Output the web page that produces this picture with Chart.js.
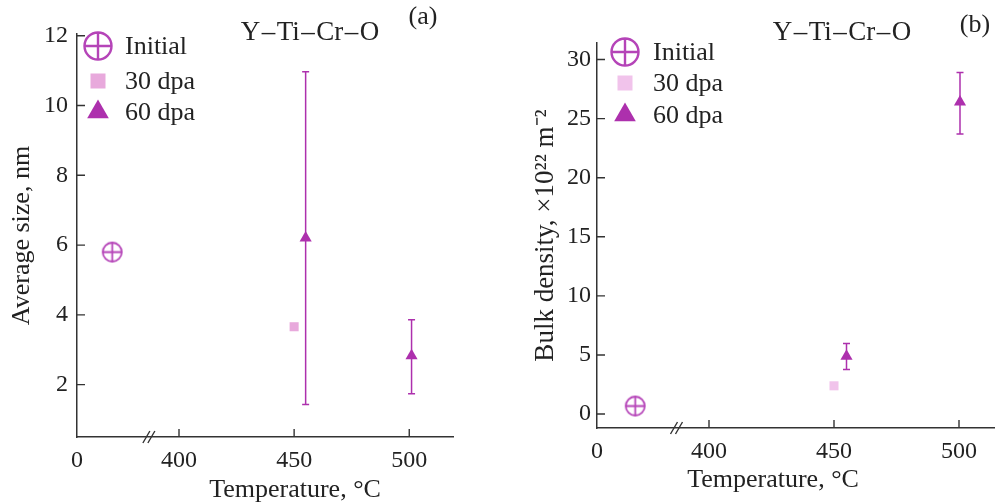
<!DOCTYPE html>
<html>
<head>
<meta charset="utf-8">
<script src="https://cdn.jsdelivr.net/npm/chart.js@4.4.1/dist/chart.umd.min.js"></script>
<style>
  body { margin: 0; background: #fff; }
  canvas { position: absolute; top: 0; }
  #chartA { left: 0; }
  #chartB { left: 490px; }
</style>
</head>
<body>
<canvas id="chartA" width="470" height="504"></canvas>
<canvas id="chartB" width="505" height="504"></canvas>
<script>
// x positions: the "Initial" point sits on the short 0-section left of the axis break
const xTickVals = [400, 450, 500];
const breakAt = 388;

// (a) average size, nm
const tempInitA = [371];
const temp30A = [450];
const temp60A = [455, 501];
const sizeInit = [5.8];
const size30 = [3.66];
const size60 = [6.2, 2.83];
const size60Low = [1.43, 1.74];
const size60High = [10.97, 3.86];
const yTicksA = [2, 4, 6, 8, 10, 12];

// (b) bulk density, x10^22 m^-2
const tempInitB = [370.5];
const temp30B = [450];
const temp60B = [455, 500.4];
const densInit = [0.68];
const dens30 = [2.39];
const dens60 = [4.9, 26.4];
const dens60Low = [3.77, 23.7];
const dens60High = [5.97, 28.9];
const yTicksB = [0, 5, 10, 15, 20, 25, 30];

const seriesNames = ['Initial', '30 dpa', '60 dpa'];
const formulaParts = ['Y', 'Ti', 'Cr', 'O'];

const fontFam = "'Liberation Serif', 'Times New Roman', serif";
const axisColor = '#333';
const textColor = '#222';
const cInit = '#b544b8';
const c60 = '#ad30ad';

function crossMarker(d, lw, color) {
  const c = document.createElement('canvas');
  c.width = c.height = Math.ceil(d + lw * 2);
  const g = c.getContext('2d');
  const m = c.width / 2, r = d / 2;
  g.strokeStyle = color;
  g.lineWidth = lw;
  g.beginPath();
  g.arc(m, m, r, 0, Math.PI * 2);
  g.moveTo(m - r, m); g.lineTo(m + r, m);
  g.moveTo(m, m - r); g.lineTo(m, m + r);
  g.stroke();
  return c;
}

// Y–Ti–Cr–O with slightly wider dashes, centred on cx
function drawFormula(ctx, cx, cy) {
  const gap = 1.5;
  const dash = '\u2013';
  const dw = ctx.measureText(dash).width + gap * 2;
  let total = 0;
  formulaParts.forEach((s, i) => { total += ctx.measureText(s).width + (i ? dw : 0); });
  let x = cx - total / 2;
  ctx.textAlign = 'left';
  formulaParts.forEach((s, i) => {
    if (i) { ctx.fillText(dash, x + gap, cy); x += dw; }
    ctx.fillText(s, x, cy);
    x += ctx.measureText(s).width;
  });
}

const decor = {
  id: 'decor',
  beforeDatasetsDraw(chart, args, o) {
    // error bars of the 60 dpa series
    const { ctx, scales: { x, y } } = chart;
    ctx.save();
    ctx.strokeStyle = c60;
    ctx.lineWidth = 1.5;
    o.x60.forEach((t, i) => {
      const px = x.getPixelForValue(t);
      const lo = y.getPixelForValue(o.low[i]);
      const hi = y.getPixelForValue(o.high[i]);
      ctx.beginPath();
      ctx.moveTo(px, lo); ctx.lineTo(px, hi);
      ctx.moveTo(px - 3.5, lo); ctx.lineTo(px + 3.5, lo);
      ctx.moveTo(px - 3.5, hi); ctx.lineTo(px + 3.5, hi);
      ctx.stroke();
    });
    ctx.restore();
  },
  afterDraw(chart, args, o) {
    const { ctx, chartArea: a, scales: { x, y } } = chart;
    ctx.save();
    // inward tick marks
    ctx.strokeStyle = axisColor;
    ctx.lineWidth = 1.4;
    ctx.beginPath();
    y.ticks.forEach(t => {
      const py = y.getPixelForValue(t.value);
      ctx.moveTo(a.left, py); ctx.lineTo(a.left + 8, py);
    });
    xTickVals.forEach(v => {
      const px = x.getPixelForValue(v);
      ctx.moveTo(px, a.bottom); ctx.lineTo(px, a.bottom - 8);
    });
    // axis break
    const bx = x.getPixelForValue(breakAt);
    [-5, 0].forEach(d => {
      ctx.moveTo(bx + d - 3.5, a.bottom + 6);
      ctx.lineTo(bx + d + 3.5, a.bottom - 6);
    });
    ctx.stroke();

    // legend
    const ds = chart.data.datasets;
    const lx = a.left + o.legX;
    ds.forEach((d, i) => {
      const ly = a.top + o.legY[i];
      ctx.fillStyle = d.backgroundColor;
      if (i === 0) {
        const img = crossMarker(27, 2.4, cInit);
        ctx.drawImage(img, lx - img.width / 2, ly - img.height / 2);
      } else if (i === 1) {
        ctx.fillRect(lx - 7.5, ly - 7.5, 15, 15);
      } else {
        const r = 12.5;
        ctx.beginPath();
        ctx.moveTo(lx, ly - r);
        ctx.lineTo(lx + r * 0.866, ly + r * 0.5);
        ctx.lineTo(lx - r * 0.866, ly + r * 0.5);
        ctx.closePath();
        ctx.fill();
      }
      ctx.fillStyle = textColor;
      ctx.font = '26px ' + fontFam;
      ctx.textAlign = 'left';
      ctx.textBaseline = 'middle';
      ctx.fillText(seriesNames[i], a.left + o.legTextX, ly + 1);
    });

    // texts
    ctx.fillStyle = textColor;
    ctx.textBaseline = 'middle';
    ctx.font = '27px ' + fontFam;
    drawFormula(ctx, o.formula[0], o.formula[1]);
    ctx.textAlign = 'center';
    ctx.font = '26px ' + fontFam;
    ctx.fillText(o.tag, o.tagPos[0], o.tagPos[1]);
    ctx.fillText('Temperature, \u00B0C', o.xTitle[0], o.xTitle[1]);
    ctx.restore();
  }
};

function panel(id, p) {
  const mk = (label, xs, ys, style, radius, color) => ({
    label: label,
    data: xs.map((v, i) => ({ x: v, y: ys[i] })),
    pointStyle: style,
    pointRadius: radius,
    pointHoverRadius: radius,
    backgroundColor: color,
    borderColor: color,
    borderWidth: 0,
    showLine: false
  });
  return new Chart(document.getElementById(id), {
    type: 'scatter',
    data: {
      datasets: [
        mk(seriesNames[0], p.xInit, p.yInit, crossMarker(19, 1.8, cInit), 10, cInit),
        mk(seriesNames[1], p.x30, p.y30, 'rect', 6.4, p.c30),
        mk(seriesNames[2], p.x60, p.y60, 'triangle', 7, c60)
      ]
    },
    options: {
      responsive: false,
      animation: false,
      layout: { padding: p.pad, autoPadding: false },
      plugins: { legend: { display: false }, tooltip: { enabled: false }, decor: p },
      scales: {
        x: {
          type: 'linear', min: p.xMin, max: p.xMax,
          afterBuildTicks: s => { s.ticks = [p.xMin].concat(xTickVals).map(v => ({ value: v })); },
          afterFit: s => { s.height = p.xAxisH; s.paddingLeft = 0; s.paddingRight = 0; },
          grid: { display: false, drawTicks: false },
          border: { color: axisColor, width: 1.5 },
          ticks: {
            padding: 9, color: textColor, maxRotation: 0, autoSkip: false,
            font: { family: fontFam, size: 24 },
            callback: v => (v === p.xMin ? '0' : String(v))
          }
        },
        y: {
          min: p.yMin, max: p.yMax,
          afterBuildTicks: s => { s.ticks = p.yTicks.map(v => ({ value: v })); },
          afterFit: s => { s.width = p.yAxisW; s.paddingTop = 0; s.paddingBottom = 0; },
          grid: { display: false, drawTicks: false },
          border: { color: axisColor, width: 1.5 },
          ticks: { padding: p.yPad, color: textColor, font: { family: fontFam, size: 24 } },
          title: {
            display: true, text: p.yTitle, color: textColor,
            font: { family: fontFam, size: p.yTitleSize }, padding: { top: p.yTitlePad, bottom: 0 }
          }
        }
      }
    },
    plugins: [decor]
  });
}

panel('chartA', {
  xInit: tempInitA, yInit: sizeInit, x30: temp30A, y30: size30, x60: temp60A, y60: size60,
  low: size60Low, high: size60High, c30: '#e8a9dc',
  xMin: 355.7, xMax: 519, yMin: 0.5, yMax: 12.05, yTicks: yTicksA,
  pad: { top: 34, right: 17, left: 0, bottom: 0 }, yAxisW: 77, xAxisH: 67, yPad: 9,
  yTitle: 'Average size, nm', yTitleSize: 26, yTitlePad: 7,
  legX: 21, legY: [12, 47, 78], legTextX: 48,
  formula: [310, 33], tag: '(a)', tagPos: [423, 17], xTitle: [295, 490]
});

panel('chartB', {
  xInit: tempInitB, yInit: densInit, x30: temp30B, y30: dens30, x60: temp60B, y60: dens60,
  low: dens60Low, high: dens60High, c30: '#f1c3eb',
  xMin: 355.2, xMax: 514.4, yMin: -1.18, yMax: 31.4, yTicks: yTicksB,
  pad: { top: 43, right: 0, left: 0, bottom: 0 }, yAxisW: 107, xAxisH: 76, yPad: 6,
  yTitle: 'Bulk density, \u00D710\u00B2\u00B2 m\u207B\u00B2', yTitleSize: 27, yTitlePad: 40,
  legX: 28, legY: [9, 40, 72], legTextX: 56,
  formula: [352, 33], tag: '(b)', tagPos: [485, 25], xTitle: [283, 480]
});
</script>
</body>
</html>
